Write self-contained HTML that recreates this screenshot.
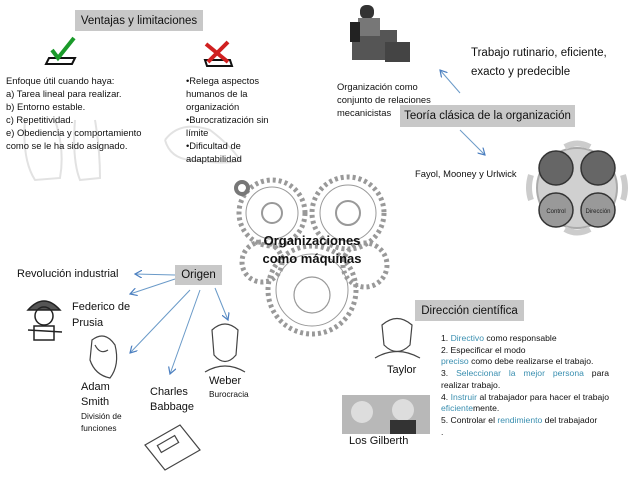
<!DOCTYPE html>
<html><head><meta charset="utf-8"><style>
*{margin:0;padding:0;box-sizing:border-box}
body{width:640px;height:480px;background:#fff;position:relative;overflow:hidden;font-family:"Liberation Sans",sans-serif;color:#111}
.t{position:absolute;white-space:nowrap}
.box{position:absolute;background:#c8c8c8;font-size:11.5px;display:flex;align-items:center;justify-content:center;white-space:nowrap}
.s{font-size:9.4px;line-height:13px}
.b{color:#3a8fb0}
</style></head><body>
<svg width="640" height="480" style="position:absolute;left:0;top:0">
<defs><marker id="a" markerWidth="8" markerHeight="8" refX="7" refY="4" orient="auto" markerUnits="userSpaceOnUse"><path d="M0,0 L7,4 L0,8" fill="none" stroke="#4a7ec0" stroke-width="1.2"/></marker></defs>
<g stroke="#e2e2e2" fill="none" stroke-width="2">
<path d="M25,120 Q22,160 35,180 L60,178 Q65,150 55,120"/><path d="M75,120 Q72,160 80,180 L100,178 Q100,150 95,120"/>
<path d="M165,140 Q180,120 210,130 Q230,145 240,160 Q230,165 190,160 Q170,158 165,140"/>
</g>
<path d="M49,58 L75,58 L72,64 L46,64 Z" fill="none" stroke="#111" stroke-width="2"/>
<path d="M52,50 L58,58 L74,38" fill="none" stroke="#1a9a2a" stroke-width="4"/>
<path d="M205,60 L230,60 L232,66 L207,66 Z" fill="none" stroke="#111" stroke-width="2"/>
<path d="M206,44 L228,62 M228,42 L208,62" stroke="#d02020" stroke-width="4"/>
<g fill="#333"><rect x="352" y="30" width="45" height="30" fill="#555"/><rect x="360" y="5" width="14" height="14" rx="6"/><rect x="358" y="18" width="22" height="18" fill="#777"/><rect x="385" y="42" width="25" height="20" fill="#444"/><rect x="350" y="22" width="10" height="20" fill="#222"/></g>
<g stroke="#6a9ac8" stroke-width="1" fill="none" marker-end="url(#a)">
<line x1="460" y1="93" x2="440" y2="70"/><line x1="460" y1="130" x2="485" y2="155"/>
<line x1="175" y1="275" x2="135" y2="274"/><line x1="175" y1="279" x2="130" y2="294"/>
<line x1="190" y1="290" x2="130" y2="353"/><line x1="200" y1="290" x2="170" y2="374"/>
<line x1="215" y1="288" x2="228" y2="320"/>
</g>
<g>
<circle cx="577" cy="188" r="40" fill="#d0d0d0" stroke="#aaa" stroke-width="2"/>
<path d="M565,147 Q577,140 590,147" stroke="#ccc" stroke-width="6" fill="none"/>
<path d="M565,229 Q577,236 590,229" stroke="#ccc" stroke-width="6" fill="none"/>
<path d="M531,175 Q527,188 531,200" stroke="#ccc" stroke-width="6" fill="none"/>
<path d="M623,175 Q627,188 623,200" stroke="#ccc" stroke-width="6" fill="none"/>
<circle cx="556" cy="168" r="17" fill="#666" stroke="#333" stroke-width="1.5"/>
<circle cx="598" cy="168" r="17" fill="#666" stroke="#333" stroke-width="1.5"/>
<circle cx="556" cy="210" r="17" fill="#999" stroke="#333" stroke-width="1.5"/>
<circle cx="598" cy="210" r="17" fill="#999" stroke="#333" stroke-width="1.5"/>
<text x="556" y="213" font-size="6" text-anchor="middle" fill="#222">Control</text>
<text x="598" y="213" font-size="6" text-anchor="middle" fill="#222">Dirección</text>
</g>
<g fill="none" stroke="#999">
<circle cx="272" cy="213" r="33" stroke-width="5" stroke-dasharray="3 3"/><circle cx="272" cy="213" r="26" stroke-width="1"/><circle cx="272" cy="213" r="10" stroke-width="2"/>
<circle cx="348" cy="213" r="36" stroke-width="5" stroke-dasharray="3 3"/><circle cx="348" cy="213" r="28" stroke-width="1"/><circle cx="348" cy="213" r="12" stroke-width="2"/>
<circle cx="312" cy="290" r="44" stroke-width="5" stroke-dasharray="3 3"/><circle cx="312" cy="290" r="36" stroke-width="1"/><circle cx="312" cy="295" r="18" stroke-width="1.2"/>
<circle cx="262" cy="262" r="20" stroke-width="5" stroke-dasharray="3 3"/>
<circle cx="365" cy="265" r="22" stroke-width="5" stroke-dasharray="3 3"/>
<circle cx="242" cy="188" r="6" stroke-width="4" stroke="#777"/>
</g>
<g stroke="#222" fill="none" stroke-width="1.5"><path d="M28,310 Q44,292 60,310 Z" fill="#555"/><circle cx="44" cy="316" r="9"/><rect x="34" y="326" width="20" height="14"/><line x1="28" y1="330" x2="62" y2="332"/></g>
<g stroke="#444" fill="none" stroke-width="1.2">
<path d="M92,340 Q105,330 115,345 Q120,365 110,378 Q95,375 90,360 Z"/><path d="M95,345 Q100,355 108,350"/>
<path d="M212,330 Q225,318 238,330 L236,355 Q225,368 214,355 Z"/><path d="M205,372 Q225,360 245,372"/>
<path d="M382,325 Q397,312 412,325 L410,345 Q397,358 384,345 Z"/><path d="M375,358 Q397,345 420,358"/>
<path d="M145,445 L180,425 L200,450 L165,470 Z"/><rect x="158" y="440" width="20" height="8" transform="rotate(-30 168 444)"/>
</g>
<rect x="342" y="395" width="88" height="39" fill="#b8b8b8"/>
<circle cx="362" cy="412" r="11" fill="#ddd"/><circle cx="403" cy="410" r="11" fill="#ddd"/>
<rect x="390" y="420" width="26" height="14" fill="#333"/>
</svg>

<div class="box" style="left:75px;top:10px;width:128px;height:21px">Ventajas y limitaciones</div>
<div class="t s" style="left:6px;top:74px">Enfoque útil cuando haya:<br>a) Tarea lineal para realizar.<br>b) Entorno estable.<br>c) Repetitividad.<br>e) Obediencia y comportamiento<br>como se le ha sido asignado.</div>
<div class="t s" style="left:186px;top:74px">•Relega aspectos<br>humanos de la<br>organización<br>•Burocratización sin<br>límite<br>•Dificultad de<br>adaptabilidad</div>

<div class="t" style="left:471px;top:44px;font-size:11.5px;line-height:19px">Trabajo rutinario, eficiente,<br>exacto y predecible</div>
<div class="t s" style="left:337px;top:80px">Organización como<br>conjunto de relaciones<br>mecanicistas</div>
<div class="box" style="left:400px;top:105px;width:175px;height:22px">Teoría clásica de la organización</div>
<div class="t" style="left:415px;top:168px;font-size:9.4px">Fayol, Mooney y Urlwick</div>

<div class="t" style="left:240px;top:232px;width:144px;text-align:center;font-size:13px;line-height:18px;font-weight:bold;color:#111">Organizaciones<br>como máquinas</div>

<div class="box" style="left:175px;top:265px;width:47px;height:20px">Origen</div>
<div class="t" style="left:17px;top:268px;font-size:11px">Revolución industrial</div>
<div class="t" style="left:72px;top:299px;font-size:11px;line-height:16px">Federico de<br>Prusia</div>
<div class="t" style="left:81px;top:380px;font-size:11px;line-height:15px">Adam<br>Smith</div>
<div class="t" style="left:81px;top:410px;font-size:8.3px;line-height:12px">División de<br>funciones</div>
<div class="t" style="left:150px;top:385px;font-size:11px;line-height:15px">Charles<br>Babbage</div>
<div class="t" style="left:209px;top:375px;font-size:11px">Weber</div>
<div class="t" style="left:209px;top:389px;font-size:8.3px">Burocracia</div>

<div class="box" style="left:415px;top:300px;width:109px;height:21px">Dirección científica</div>
<div class="t" style="left:387px;top:364px;font-size:11px">Taylor</div>
<div class="t" style="left:349px;top:435px;font-size:11px">Los Gilberth</div>
<div style="position:absolute;left:441px;top:333px;width:168px;font-size:8.6px;line-height:11.7px;text-align:justify">1. <span class="b">Directivo</span> como responsable<br>2. Especificar el modo<br><span class="b">preciso</span> como debe realizarse el trabajo.<br>3. <span class="b">Seleccionar la mejor persona</span> para realizar trabajo.<br>4. <span class="b">Instruir</span> al trabajador para hacer el trabajo <span class="b">eficiente</span>mente.<br><span style="white-space:nowrap">5. Controlar el <span class="b">rendimiento</span> del trabajador</span><br>.</div>
</body></html>
